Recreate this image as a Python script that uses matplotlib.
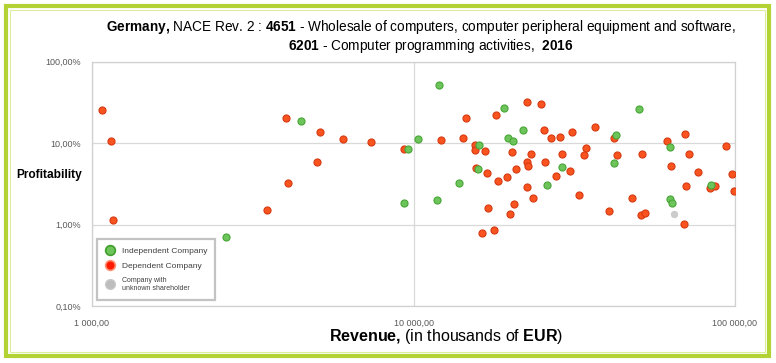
import matplotlib
matplotlib.use('Agg')
import matplotlib.pyplot as plt
from matplotlib import font_manager
from matplotlib.lines import Line2D
from matplotlib.patches import Rectangle
from matplotlib.ticker import FixedLocator, NullLocator

# revenue in thousands of EUR, profitability in %
indep_revenue = [4470, 9640, 10350, 12000, 9360, 11830, 2620, 19140, 21980, 19730, 20430, 16030,
                 15880, 13900, 26000, 29040, 42760, 42150, 50250, 62890, 62890, 63800, 84400]
indep_profit = [18.6, 8.5, 11.2, 51.3, 1.83, 1.99, 0.70, 26.8, 14.4, 11.5, 10.6, 9.42,
                4.82, 3.22, 3.07, 5.06, 12.6, 5.66, 26.1, 8.91, 2.07, 1.83, 3.07]

dep_revenue = [1077, 1148, 1165, 4018, 5130, 6050, 7390, 9330, 5020, 4080, 3510,
               12220, 14290, 14600, 15530, 15560, 16710, 15640, 16980, 18110, 18370, 19590,
               20290, 20880, 20590, 20000, 17090, 16380, 17820, 22580, 24990, 25530, 26850,
               28650, 31200, 23230, 22470, 22760, 25700, 22580, 23580, 27790, 29040, 30760,
               34300, 33940, 32800, 36810, 40660, 42070, 43080, 47950, 51540, 51040, 52390,
               61510, 63380, 69870, 72040, 76900, 70440, 69570, 83560, 86860, 94000, 98100, 99540]
dep_profit = [25.3, 10.6, 1.13, 20.2, 13.7, 11.2, 10.3, 8.5, 5.8, 3.22, 1.50,
              10.9, 11.5, 20.2, 9.42, 8.19, 7.96, 4.92, 4.27, 22.2, 3.41, 3.82,
              7.80, 4.82, 1.80, 1.35, 1.60, 0.79, 0.85, 31.8, 30.3, 14.4, 11.5,
              11.8, 13.6, 7.31, 5.87, 5.25, 5.83, 2.88, 2.13, 3.93, 7.31, 4.56,
              8.65, 7.11, 2.30, 15.7, 1.46, 11.5, 7.11, 2.13, 7.31, 1.30, 1.39,
              10.6, 5.25, 12.9, 7.31, 4.40, 2.96, 1.01, 2.80, 2.96, 9.16, 4.15, 2.57]

unknown_revenue = [64450]
unknown_profit = [1.33]

x_ticks = [1000, 10000, 100000]
x_tick_labels = ['1 000,00', '10 000,00', '100 000,00']
y_ticks = [0.1, 1, 10, 100]
y_tick_labels = ['0,10%', '1,00%', '10,00%', '100,00%']

names = {f.name for f in font_manager.fontManager.ttflist}
fam = 'Liberation Sans Narrow' if 'Liberation Sans Narrow' in names else 'Liberation Sans'
plt.rcParams['font.family'] = [fam, 'DejaVu Sans']
plt.rcParams['mathtext.fontset'] = 'custom'
plt.rcParams['mathtext.rm'] = fam
plt.rcParams['mathtext.bf'] = fam + ':bold'

W, H = 776, 363
fig = plt.figure(figsize=(W / 100, H / 100), dpi=100)
ax = fig.add_axes([92 / W, 1 - 306 / H, (735 - 92) / W, (306 - 61.7) / H])

ax.scatter(dep_revenue, dep_profit, s=26, color='#f9541f', edgecolors='#d63a12', linewidths=0.8, zorder=3)
ax.scatter(indep_revenue, indep_profit, s=26, color='#6cc45a', edgecolors='#48a636', linewidths=0.8, zorder=4)
ax.scatter(unknown_revenue, unknown_profit, s=22, color='#cccccc', edgecolors='#c4c4c4', linewidths=0.5, zorder=4)

ax.set_xscale('log')
ax.set_yscale('log')
ax.set_xlim(1000, 100000)
ax.set_ylim(0.1, 100)
ax.xaxis.set_major_locator(FixedLocator(x_ticks))
ax.yaxis.set_major_locator(FixedLocator(y_ticks))
ax.xaxis.set_minor_locator(NullLocator())
ax.yaxis.set_minor_locator(NullLocator())
ax.set_xticklabels(x_tick_labels)
ax.set_yticklabels(y_tick_labels)
ax.tick_params(length=0, labelsize=6.5, labelcolor='#595959')
ax.tick_params(axis='x', pad=9)
ax.tick_params(axis='y', pad=8)
ax.grid(True, color='#d9d9d9', lw=0.9)
ax.set_axisbelow(True)
for sp in ax.spines.values():
    sp.set_color('#d0d0d0')
    sp.set_linewidth(0.9)

handles = [
    Line2D([], [], marker='o', ls='', markersize=7, markerfacecolor='#6cc45a', markeredgecolor='#3f9e2c', markeredgewidth=1.2),
    Line2D([], [], marker='o', ls='', markersize=7, markerfacecolor='#ff1a00', markeredgecolor='#ff9070', markeredgewidth=1.2),
    Line2D([], [], marker='o', ls='', markersize=7, markerfacecolor='#bdbdbd', markeredgecolor='#c8c8c8', markeredgewidth=1.0),
]
leg = ax.legend(handles, ['Independent Company', 'Dependent Company', 'Company with\nunknown shareholder'],
                loc='lower left', bbox_to_anchor=(0.007, 0.025), borderaxespad=0, fontsize=6,
                fancybox=False, frameon=True, borderpad=0.9, handletextpad=0.6, labelspacing=0.9,
                handlelength=1.5)
leg.get_frame().set_edgecolor('#b4b4b4')
leg.get_frame().set_linewidth(1.6)
leg.get_texts()[2].set_fontsize(5)
for t in leg.get_texts():
    t.set_color('#404040')

fig.text(421 / W, 1 - 27 / H,
         r'$\mathbf{Germany{,}}$ NACE Rev. 2 : $\mathbf{4651}$ - Wholesale of computers, computer peripheral equipment and software,',
         ha='center', va='center', fontsize=9.8)
fig.text(431 / W, 1 - 46 / H,
         r'$\mathbf{6201}$ - Computer programming activities,  $\mathbf{2016}$',
         ha='center', va='center', fontsize=9.8)
fig.text(49 / W, 1 - 175 / H, 'Profitability', ha='center', va='center', fontsize=8.6, fontweight='bold')
fig.text(446 / W, 1 - 336 / H, r'$\mathbf{Revenue{,}}$ (in thousands of $\mathbf{EUR}$)',
         ha='center', va='center', fontsize=11.5)

# lime frame round the whole picture
fig.add_artist(Rectangle((5.5 / W, 1 - 355.5 / H), (769 - 5.5) / W, (355.5 - 5.5) / H,
                         transform=fig.transFigure, fill=False, edgecolor='#b3d334', lw=3))
fig.add_artist(Rectangle((9.5 / W, 1 - 351.5 / H), (765 - 9.5) / W, (351.5 - 9.5) / H,
                         transform=fig.transFigure, fill=False, edgecolor='#dcee9c', lw=0.8))

fig.savefig('out.png', dpi=100, facecolor='white')
